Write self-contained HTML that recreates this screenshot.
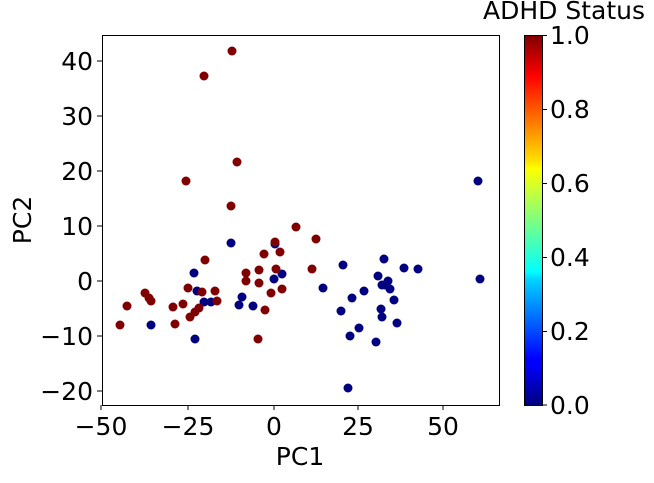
<!DOCTYPE html><html><head><style>body{margin:0;background:#fff}svg text{font-family:"DejaVu Sans","Liberation Sans",sans-serif;font-size:25px;fill:#000}</style></head><body>
<svg width="654" height="478" viewBox="0 0 654 478" xmlns="http://www.w3.org/2000/svg">
<defs><linearGradient id="jet" x1="0" y1="1" x2="0" y2="0">
<stop offset="0" stop-color="#00007f"/><stop offset="0.11" stop-color="#0000ff"/><stop offset="0.125" stop-color="#0000ff"/><stop offset="0.34" stop-color="#00d4ff"/><stop offset="0.36" stop-color="#0ff"/><stop offset="0.5" stop-color="#7fff7f"/><stop offset="0.64" stop-color="#ff0"/><stop offset="0.66" stop-color="#ffe000"/><stop offset="0.89" stop-color="#ff0000"/><stop offset="1" stop-color="#7f0000"/></linearGradient></defs>
<g fill="#000080">
<circle cx="231" cy="243" r="4.5"/><circle cx="275" cy="244" r="4.5"/><circle cx="194" cy="273" r="4.5"/><circle cx="282" cy="274" r="4.5"/><circle cx="274" cy="279" r="4.5"/><circle cx="197" cy="291" r="4.5"/><circle cx="242" cy="297" r="4.5"/><circle cx="204" cy="302" r="4.5"/><circle cx="211" cy="302" r="4.5"/><circle cx="239" cy="305" r="4.5"/><circle cx="253" cy="306" r="4.5"/><circle cx="151" cy="325" r="4.5"/><circle cx="195" cy="339" r="4.5"/>
<circle cx="478" cy="181" r="4.5"/><circle cx="343" cy="265" r="4.5"/><circle cx="323" cy="288" r="4.5"/><circle cx="384" cy="259" r="4.5"/><circle cx="404" cy="268" r="4.5"/><circle cx="418" cy="269" r="4.5"/><circle cx="480" cy="279" r="4.5"/><circle cx="378" cy="276" r="4.5"/><circle cx="388" cy="281" r="4.5"/><circle cx="382" cy="285" r="4.5"/><circle cx="385" cy="285" r="4.5"/><circle cx="390" cy="289" r="4.5"/><circle cx="364" cy="291" r="4.5"/><circle cx="352" cy="298" r="4.5"/><circle cx="394" cy="300" r="4.5"/><circle cx="341" cy="311" r="4.5"/><circle cx="381" cy="309" r="4.5"/><circle cx="382" cy="317" r="4.5"/><circle cx="397" cy="323" r="4.5"/><circle cx="359" cy="328" r="4.5"/><circle cx="350" cy="336" r="4.5"/><circle cx="376" cy="342" r="4.5"/><circle cx="348" cy="388" r="4.5"/>
</g>
<g fill="#800000">
<circle cx="232" cy="51" r="4.5"/><circle cx="204" cy="76" r="4.5"/><circle cx="237" cy="162" r="4.5"/>
<circle cx="186" cy="181" r="4.5"/><circle cx="231" cy="206" r="4.5"/><circle cx="296" cy="227" r="4.5"/><circle cx="275" cy="242" r="4.5"/><circle cx="280" cy="252" r="4.5"/><circle cx="264" cy="254" r="4.5"/><circle cx="205" cy="260" r="4.5"/><circle cx="246" cy="273" r="4.5"/><circle cx="259" cy="270" r="4.5"/><circle cx="276" cy="269" r="4.5"/><circle cx="246" cy="281" r="4.5"/><circle cx="259" cy="283" r="4.5"/><circle cx="188" cy="288" r="4.5"/><circle cx="202" cy="292" r="4.5"/><circle cx="215" cy="291" r="4.5"/><circle cx="282" cy="289" r="4.5"/><circle cx="271" cy="293" r="4.5"/><circle cx="145" cy="293" r="4.5"/><circle cx="149" cy="298" r="4.5"/><circle cx="151" cy="301" r="4.5"/><circle cx="217" cy="301" r="4.5"/><circle cx="265" cy="310" r="4.5"/><circle cx="127" cy="306" r="4.5"/><circle cx="173" cy="307" r="4.5"/><circle cx="183" cy="304" r="4.5"/><circle cx="199" cy="308" r="4.5"/><circle cx="195" cy="312" r="4.5"/><circle cx="190" cy="317" r="4.5"/><circle cx="120" cy="325" r="4.5"/><circle cx="175" cy="324" r="4.5"/><circle cx="258" cy="339" r="4.5"/><circle cx="316" cy="239" r="4.5"/><circle cx="312" cy="269" r="4.5"/>
</g>
<rect x="102.5" y="35.5" width="397" height="370" fill="none" stroke="#000" stroke-width="1"/>
<g stroke="#000"><line x1="101" y1="405" x2="101" y2="410"/><line x1="188" y1="405" x2="188" y2="410"/><line x1="274" y1="405" x2="274" y2="410"/><line x1="358" y1="405" x2="358" y2="410"/><line x1="443" y1="405" x2="443" y2="410"/>
<line x1="97" y1="61" x2="102" y2="61"/><line x1="97" y1="116" x2="102" y2="116"/><line x1="97" y1="171" x2="102" y2="171"/><line x1="97" y1="226" x2="102" y2="226"/><line x1="97" y1="281" x2="102" y2="281"/><line x1="97" y1="336" x2="102" y2="336"/><line x1="97" y1="391" x2="102" y2="391"/></g>
<g text-anchor="middle"><text x="101" y="435">−50</text><text x="188" y="435">−25</text><text x="274" y="435">0</text><text x="358" y="435">25</text><text x="443" y="435">50</text><text x="300" y="465">PC1</text></g>
<g text-anchor="end"><text x="93" y="70">40</text><text x="93" y="125">30</text><text x="93" y="180">20</text><text x="93" y="235">10</text><text x="93" y="290">0</text><text x="93" y="345">−10</text><text x="93" y="400">−20</text></g>
<text transform="translate(31,220) rotate(-90)" text-anchor="middle">PC2</text>
<rect x="524" y="35" width="18" height="370" fill="url(#jet)"/>
<rect x="524.5" y="35.5" width="18" height="370" fill="none" stroke="#000"/>
<g stroke="#000"><line x1="542" y1="35.5" x2="547" y2="35.5"/><line x1="542" y1="109.5" x2="547" y2="109.5"/><line x1="542" y1="183.5" x2="547" y2="183.5"/><line x1="542" y1="257.5" x2="547" y2="257.5"/><line x1="542" y1="331.5" x2="547" y2="331.5"/><line x1="542" y1="405" x2="547" y2="405"/></g>
<g><text x="550" y="44">1.0</text><text x="550" y="118">0.8</text><text x="550" y="192">0.6</text><text x="550" y="266">0.4</text><text x="550" y="340">0.2</text><text x="550" y="414">0.0</text></g>
<text x="564" y="19" text-anchor="middle">ADHD Status</text>
</svg></body></html>
